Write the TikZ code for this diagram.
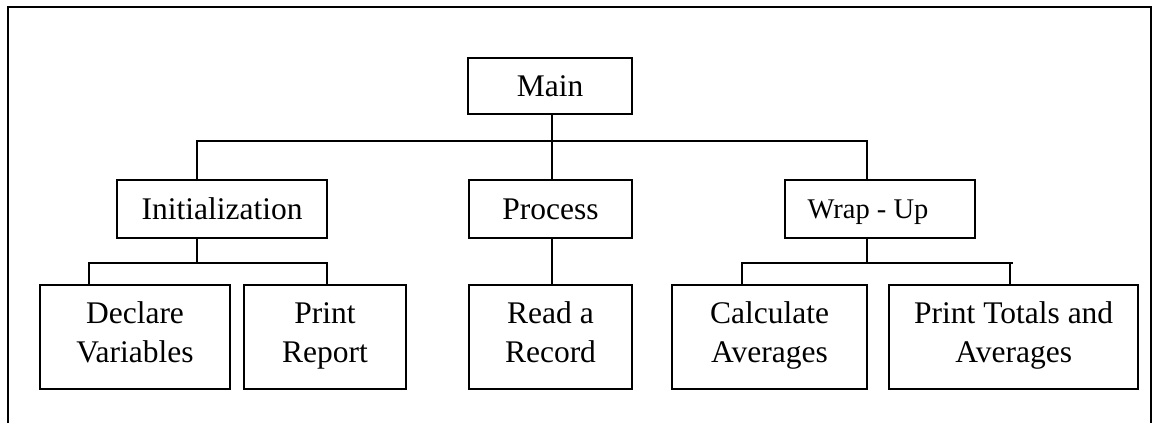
\documentclass[tikz,border=0pt]{standalone}
\usepackage{fontspec}
\setmainfont{Liberation Serif}
\newcommand\twostrut{\rule[-13.3pt]{0pt}{38.3pt}}
\begin{document}
\begin{tikzpicture}[x=1pt,y=-1pt,
  every node/.style={font=\fontsize{31.5}{37.7}\selectfont},
  box/.style={draw, line width=1.8pt, inner sep=0pt, align=center},
  conn/.style={line width=1.8pt},
  frame/.style={line width=2.2pt}]
\useasboundingbox (0,0) rectangle (1153,423);
% outer frame (open at the bottom)
\draw[frame] (8,423) -- (8,7) -- (1151,7) -- (1151,423);
% boxes
\node[box, minimum width=164.3pt, minimum height=56pt] (main) at (550,86.3) {Main};
\node[box, minimum width=209.7pt, minimum height=58pt] (init) at (222.2,209) {Initialization};
\node[box, minimum width=162.7pt, minimum height=58pt] (proc) at (550.4,209) {Process};
\node[box, minimum width=190.6pt, minimum height=58pt, text depth=0pt,
      font=\fontsize{28.5}{34}\selectfont] (wrap) at (880,209) {Wrap - Up\hspace*{24pt}};
\node[box, minimum width=190pt, minimum height=104pt] (decl) at (135,337) {\twostrut Declare\\\twostrut Variables};
\node[box, minimum width=162pt, minimum height=104pt] (prep) at (325,337) {\twostrut Print\\\twostrut Report};
\node[box, minimum width=162.4pt, minimum height=104pt] (read) at (550.5,337) {\twostrut Read a\\\twostrut Record};
\node[box, minimum width=194.4pt, minimum height=104pt] (calc) at (769.5,337) {\twostrut Calculate\\\twostrut Averages};
\node[box, minimum width=249.3pt, minimum height=104pt] (ptot) at (1013.7,337) {\twostrut Print Totals and\\\twostrut Averages};
% bus coordinates
\coordinate (busL) at (197,140.7);
\coordinate (busR) at (866.7,140.7);
\coordinate (mid) at (551.7,140.7);
\coordinate (ibus) at (197,262.7);
\coordinate (ibL) at (89,262.7);
\coordinate (ibR) at (327,262.7);
\coordinate (wbus) at (866.7,262.7);
\coordinate (wbL) at (741.7,262.7);
\coordinate (wbR) at (1013,262.7);
\coordinate (wdR) at (1010,262.7);
% top level connectors
\draw[conn] (mid |- main.south) -- (mid |- proc.north);
\draw[conn] (busL |- init.north) -- (busL) -- (busR) -- (busR |- wrap.north);
% initialization children
\draw[conn] (ibus |- init.south) -- (ibus);
\draw[conn] (ibL |- decl.north) -- (ibL) -- (ibR) -- (ibR |- prep.north);
% process child
\draw[conn] (mid |- proc.south) -- (mid |- read.north);
% wrap-up children
\draw[conn] (wbus |- wrap.south) -- (wbus);
\draw[conn] (wbL |- calc.north) -- (wbL) -- (wbR);
\draw[conn] (wdR) -- (wdR |- ptot.north);
\end{tikzpicture}
\end{document}
